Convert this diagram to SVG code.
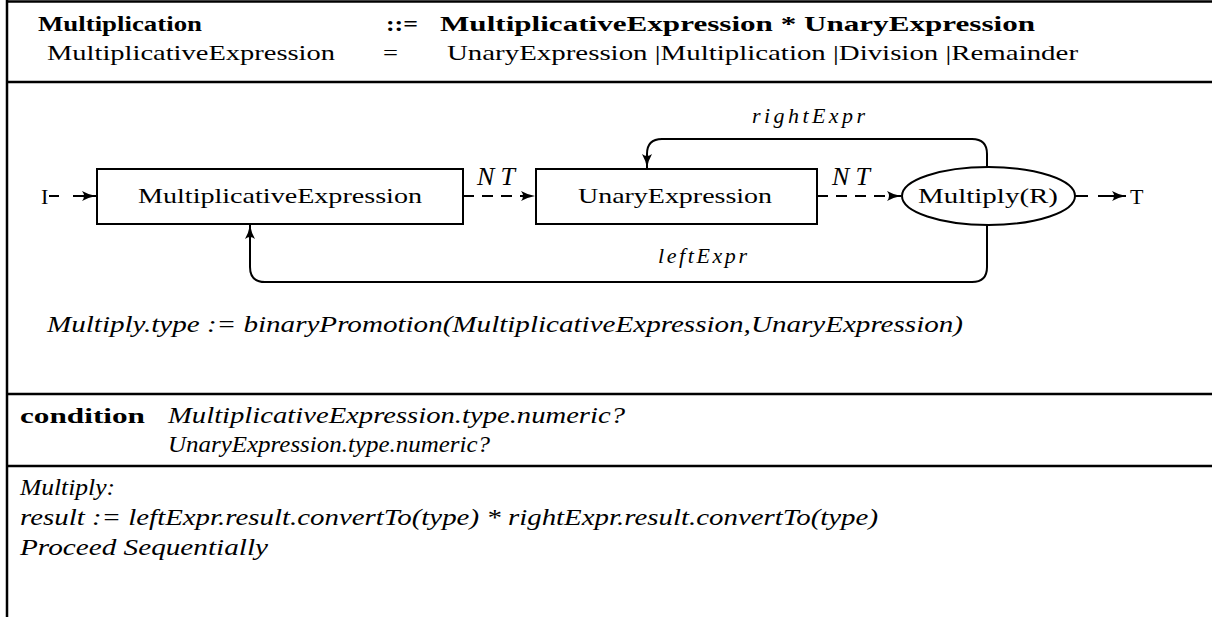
<svg xmlns="http://www.w3.org/2000/svg" width="1212" height="617" viewBox="0 0 1212 617">
<style>
.t{font-family:"Liberation Serif","DejaVu Serif",serif;font-size:22px;fill:#000}
.b{font-weight:bold}
.i{font-style:italic}
.s{font-size:24px}
.m{font-size:26px}
.frame{stroke:#000;stroke-width:2.5;fill:none}
.node{fill:#fff;stroke:#000;stroke-width:2}
.edge{fill:none;stroke:#000;stroke-width:2}
.dash{stroke-dasharray:11 8}
</style>
<defs>
<marker id="ah" viewBox="0 0 14 11" refX="14" refY="5.5" markerWidth="14" markerHeight="11" markerUnits="userSpaceOnUse" orient="auto">
<path d="M0,0.5 Q6,4 14,5.5 Q6,7 0,10.5 Q4,5.5 0,0.5 Z" fill="#000"/>
</marker>
</defs>
<g id="frame">
<line class="frame" x1="7" y1="0" x2="7" y2="617"/>
<line class="frame" x1="7" y1="1.5" x2="1212" y2="1.5"/>
<line class="frame" x1="7" y1="82" x2="1212" y2="82"/>
<line class="frame" x1="7" y1="394" x2="1212" y2="394"/>
<line class="frame" x1="7" y1="466" x2="1212" y2="466"/>
</g>
<g id="header">
<text class="t b" x="38" y="31" textLength="164" lengthAdjust="spacingAndGlyphs">Multiplication</text>
<text class="t b" x="386" y="31" textLength="32" lengthAdjust="spacingAndGlyphs">::=</text>
<text class="t b" x="440" y="31" textLength="595" lengthAdjust="spacingAndGlyphs">MultiplicativeExpression * UnaryExpression</text>
<text class="t" x="47" y="60" textLength="288" lengthAdjust="spacingAndGlyphs">MultiplicativeExpression</text>
<text class="t" x="383" y="60" textLength="15" lengthAdjust="spacingAndGlyphs">=</text>
<text class="t" x="447" y="60" textLength="631" lengthAdjust="spacingAndGlyphs">UnaryExpression |Multiplication |Division |Remainder</text>
</g>
<g id="connectors">
<line class="edge" x1="49" y1="196" x2="96" y2="196" stroke-dasharray="10 14 40" marker-end="url(#ah)"/>
<line class="edge dash" x1="463" y1="196" x2="535" y2="196" marker-end="url(#ah)"/>
<line class="edge dash" x1="817" y1="196" x2="901" y2="196" marker-end="url(#ah)"/>
<line class="edge" x1="1075" y1="196" x2="1126" y2="196" stroke-dasharray="13 10 40" marker-end="url(#ah)"/>
<path class="edge" d="M987,167 V154 Q987,139 972,139 H662 Q647,139 647,154 V168" marker-end="url(#ah)"/>
<path class="edge" d="M987,225 V267 Q987,282 972,282 H265 Q250,282 250,267 V225" marker-end="url(#ah)"/>
<text class="t i m" x="477" y="185" textLength="38" lengthAdjust="spacing">NT</text>
<text class="t i m" x="832" y="185" textLength="38" lengthAdjust="spacing">NT</text>
<text class="t i" x="752" y="123" textLength="113" lengthAdjust="spacing">rightExpr</text>
<text class="t i" x="658" y="263" textLength="89" lengthAdjust="spacing">leftExpr</text>
</g>
<g id="start"><text class="t" x="41" y="204">I</text></g>
<g id="end"><text class="t" x="1130" y="204">T</text></g>
<g id="MultiplicativeExpression">
<rect class="node" x="97" y="169" width="366" height="55"/>
<text class="t" x="138" y="203" textLength="284" lengthAdjust="spacingAndGlyphs">MultiplicativeExpression</text>
</g>
<g id="UnaryExpression">
<rect class="node" x="536" y="169" width="281" height="55"/>
<text class="t" x="578" y="203" textLength="194" lengthAdjust="spacingAndGlyphs">UnaryExpression</text>
</g>
<g id="Multiply">
<ellipse class="node" cx="988.5" cy="196" rx="86.5" ry="29"/>
<text class="t" x="918" y="203" textLength="140" lengthAdjust="spacingAndGlyphs">Multiply(R)</text>
</g>
<g id="semantics">
<text class="t i s" x="47" y="332" textLength="916" lengthAdjust="spacingAndGlyphs">Multiply.type := binaryPromotion(MultiplicativeExpression,UnaryExpression)</text>
<text class="t b" x="20" y="423" textLength="125" lengthAdjust="spacingAndGlyphs">condition</text>
<text class="t i s" x="168" y="423" textLength="457" lengthAdjust="spacingAndGlyphs">MultiplicativeExpression.type.numeric?</text>
<text class="t i s" x="168" y="452" textLength="322" lengthAdjust="spacingAndGlyphs">UnaryExpression.type.numeric?</text>
<text class="t i s" x="20" y="495" textLength="95" lengthAdjust="spacingAndGlyphs">Multiply:</text>
<text class="t i s" x="20" y="525" textLength="858" lengthAdjust="spacingAndGlyphs">result := leftExpr.result.convertTo(type) * rightExpr.result.convertTo(type)</text>
<text class="t i s" x="20" y="555" textLength="248" lengthAdjust="spacingAndGlyphs">Proceed Sequentially</text>
</g>
</svg>
